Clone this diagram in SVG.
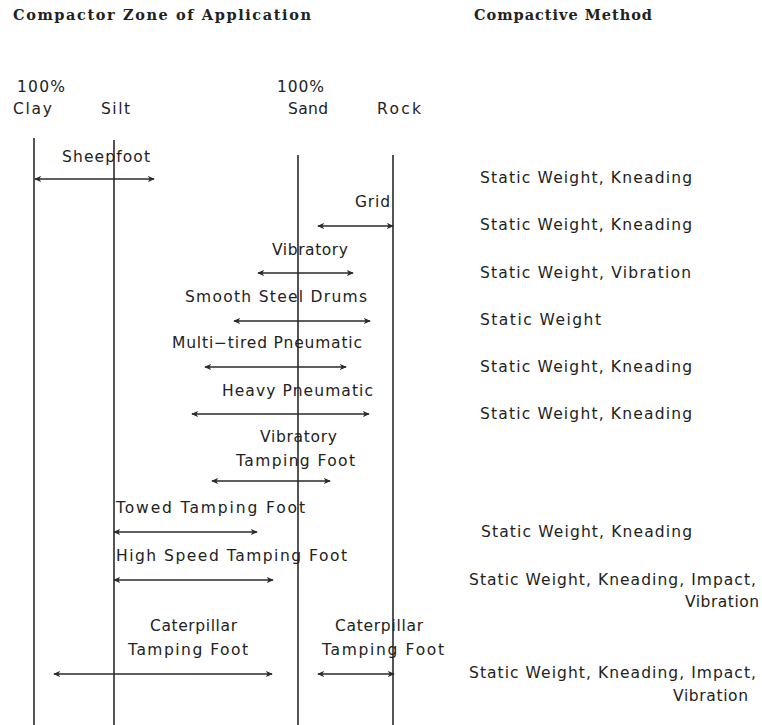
<svg xmlns="http://www.w3.org/2000/svg" width="762" height="725" viewBox="0 0 762 725">
  <style>
    .head { font-family: "DejaVu Serif", "Liberation Serif", serif; font-weight: bold; font-size: 14.5px; fill: #222; }
    .lbl { font-family: "DejaVu Sans", "Liberation Sans", Arial, sans-serif; font-size: 15.5px; fill: #222; }
    .axis { stroke: #2a2a2a; stroke-width: 1.6; fill: none; }
    .rng { stroke: #2a2a2a; stroke-width: 1.4; fill: none; marker-start: url(#tip); marker-end: url(#tip); }
  </style>
  <defs>
    <marker id="tip" viewBox="0 0 8 8" refX="7" refY="4" markerWidth="7" markerHeight="7" markerUnits="userSpaceOnUse" orient="auto-start-reverse">
      <path d="M0,0.5 L8,4 L0,7.5 L2,4 z" fill="#2a2a2a"/>
    </marker>
  </defs>
  <rect width="762" height="725" fill="#fff"/>

  <!-- column headings -->
  <g id="headings">
    <text class="head" x="13" y="20" textLength="298" lengthAdjust="spacing">Compactor Zone of Application</text>
    <text class="head" x="474" y="20" textLength="178" lengthAdjust="spacing">Compactive Method</text>
  </g>

  <!-- soil scale -->
  <g id="scale">
    <text class="lbl" x="17" y="92" textLength="48" lengthAdjust="spacing">100%</text>
    <text class="lbl" x="13" y="114" textLength="39" lengthAdjust="spacing">Clay</text>
    <text class="lbl" x="101" y="114" textLength="29" lengthAdjust="spacing">Silt</text>
    <text class="lbl" x="277" y="92" textLength="47" lengthAdjust="spacing">100%</text>
    <text class="lbl" x="288" y="114" textLength="40" lengthAdjust="spacing">Sand</text>
    <text class="lbl" x="377" y="114" textLength="44" lengthAdjust="spacing">Rock</text>
  </g>

  <g id="axes">
    <line class="axis" x1="34" y1="138" x2="34" y2="725"/>
    <line class="axis" x1="114" y1="140" x2="114" y2="725"/>
    <line class="axis" x1="298" y1="155" x2="298" y2="725"/>
    <line class="axis" x1="393" y1="155" x2="393" y2="725"/>
  </g>

  <!-- range arrows -->
  <g id="connectors">
    <line class="rng" x1="35" y1="179" x2="154" y2="179"/>
    <line class="rng" x1="318" y1="226" x2="393" y2="226"/>
    <line class="rng" x1="258" y1="273" x2="353" y2="273"/>
    <line class="rng" x1="234" y1="321" x2="370" y2="321"/>
    <line class="rng" x1="205" y1="367" x2="346" y2="367"/>
    <line class="rng" x1="192" y1="414" x2="369" y2="414"/>
    <line class="rng" x1="212" y1="481" x2="330" y2="481"/>
    <line class="rng" x1="114" y1="532" x2="257" y2="532"/>
    <line class="rng" x1="114" y1="580" x2="273" y2="580"/>
    <line class="rng" x1="54" y1="674" x2="272" y2="674"/>
    <line class="rng" x1="318" y1="674" x2="394" y2="674"/>
  </g>

  <!-- compactor labels -->
  <g id="sheepfoot"><text class="lbl" x="62" y="162" textLength="88" lengthAdjust="spacing">Sheepfoot</text></g>
  <g id="grid"><text class="lbl" x="355" y="207" textLength="35" lengthAdjust="spacing">Grid</text></g>
  <g id="vibratory"><text class="lbl" x="272" y="255" textLength="76" lengthAdjust="spacing">Vibratory</text></g>
  <g id="smooth-steel-drums"><text class="lbl" x="185" y="302" textLength="182" lengthAdjust="spacing">Smooth Steel Drums</text></g>
  <g id="multi-tired-pneumatic"><text class="lbl" x="172" y="348" textLength="190" lengthAdjust="spacing">Multi−tired Pneumatic</text></g>
  <g id="heavy-pneumatic"><text class="lbl" x="222" y="396" textLength="151" lengthAdjust="spacing">Heavy Pneumatic</text></g>
  <g id="vibratory-tamping-foot">
    <text class="lbl" x="260" y="442" textLength="77" lengthAdjust="spacing">Vibratory</text>
    <text class="lbl" x="236" y="466" textLength="119" lengthAdjust="spacing">Tamping Foot</text>
  </g>
  <g id="towed-tamping-foot"><text class="lbl" x="116" y="513" textLength="189" lengthAdjust="spacing">Towed Tamping Foot</text></g>
  <g id="high-speed-tamping-foot"><text class="lbl" x="116" y="561" textLength="231" lengthAdjust="spacing">High Speed Tamping Foot</text></g>
  <g id="caterpillar-left">
    <text class="lbl" x="150" y="631" textLength="87" lengthAdjust="spacing">Caterpillar</text>
    <text class="lbl" x="128" y="655" textLength="120" lengthAdjust="spacing">Tamping Foot</text>
  </g>
  <g id="caterpillar-right">
    <text class="lbl" x="335" y="631" textLength="88" lengthAdjust="spacing">Caterpillar</text>
    <text class="lbl" x="322" y="655" textLength="122" lengthAdjust="spacing">Tamping Foot</text>
  </g>

  <!-- compactive methods -->
  <g id="methods">
    <text class="lbl" x="480" y="183" textLength="212" lengthAdjust="spacing">Static Weight, Kneading</text>
    <text class="lbl" x="480" y="230" textLength="212" lengthAdjust="spacing">Static Weight, Kneading</text>
    <text class="lbl" x="480" y="278" textLength="211" lengthAdjust="spacing">Static Weight, Vibration</text>
    <text class="lbl" x="480" y="325" textLength="121" lengthAdjust="spacing">Static Weight</text>
    <text class="lbl" x="480" y="372" textLength="212" lengthAdjust="spacing">Static Weight, Kneading</text>
    <text class="lbl" x="480" y="419" textLength="212" lengthAdjust="spacing">Static Weight, Kneading</text>
    <text class="lbl" x="481" y="537" textLength="211" lengthAdjust="spacing">Static Weight, Kneading</text>
    <text class="lbl" x="469" y="585" textLength="287" lengthAdjust="spacing">Static Weight, Kneading, Impact,</text>
    <text class="lbl" x="685" y="607" textLength="74" lengthAdjust="spacing">Vibration</text>
    <text class="lbl" x="469" y="678" textLength="287" lengthAdjust="spacing">Static Weight, Kneading, Impact,</text>
    <text class="lbl" x="673" y="701" textLength="75" lengthAdjust="spacing">Vibration</text>
  </g>
</svg>
